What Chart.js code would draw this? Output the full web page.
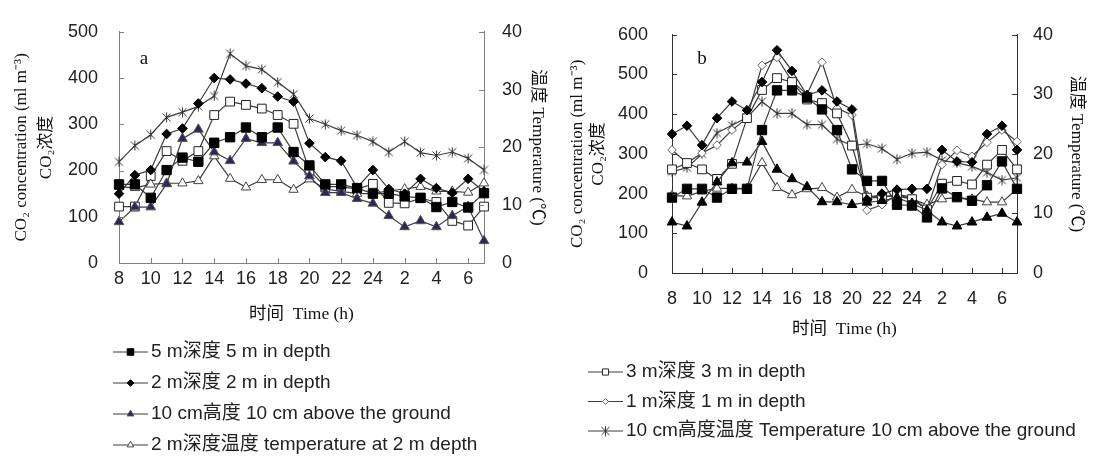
<!DOCTYPE html>
<html>
<head>
<meta charset="utf-8">
<script src="https://cdn.jsdelivr.net/npm/chart.js@4.4.1/dist/chart.umd.min.js"></script>
<style>
html, body { margin: 0; padding: 0; background: #fff; }
body { width: 1094px; height: 460px; position: relative; overflow: hidden; }
#chartA { position: absolute; left: 0; top: 0; }
#chartB { position: absolute; left: 550px; top: 0; }
</style>
</head>
<body>
<canvas id="chartA" width="550" height="460"></canvas>
<canvas id="chartB" width="544" height="460"></canvas>
<script>
// ===== DATA =====
const hours = ['8','9','10','11','12','13','14','15','16','17','18','19','20','21','22','23','24','1','2','3','4','5','6','7'];

// panel a, CO2 concentration (ml m-3)
const aDepth5  = [170,170,141,201,228,219,260,272,293,272,293,240,211,170,170,162,150,150,144,141,121,132,120,151];
const aDepth2  = [150,190,201,279,291,345,400,397,388,378,360,349,259,229,221,163,201,160,150,182,162,152,182,155];
const aAbove10 = [89,121,121,171,269,289,240,221,269,260,260,220,188,152,152,139,129,102,78,91,78,102,122,48];
const aDepth3  = [122,122,188,242,221,242,320,349,342,334,320,301,200,165,165,160,171,130,129,140,132,91,81,122];
// panel a, temperature (°C)
const aTemp2   = [13.2,13.0,13.6,13.8,13.8,14.2,18.5,14.6,13.1,14.4,14.4,12.7,14.5,12.8,12.4,12.0,12.0,12.5,12.8,13.2,12.4,12.4,12.2,13.8];
const aTemp10  = [17.5,20.3,22.2,25.2,26.1,27.1,28.9,36.2,34.1,33.5,31.3,29.2,25.0,24.0,22.9,22.1,21.0,19.2,21.0,19.1,18.6,19.2,18.1,16.1];

// panel b, CO2 concentration (ml m-3)
const bDepth5  = [190,212,212,190,212,212,360,460,460,442,412,360,261,232,232,172,170,140,213,191,182,221,281,212];
const bDepth2  = [350,371,322,390,432,410,481,561,509,448,460,432,412,185,200,210,212,212,310,281,279,350,371,310];
const bAbove10 = [128,118,178,229,277,279,331,261,237,217,179,179,172,178,182,190,175,158,128,118,128,140,150,128];
const bDepth3  = [261,277,261,237,275,390,461,491,481,437,428,402,321,190,190,198,186,160,225,232,223,273,310,261];
const bDepth1  = [310,277,302,322,360,390,523,543,483,450,531,415,398,158,172,198,191,160,273,309,294,329,360,331];
// panel b, temperature (°C)
const bTemp2   = [13.0,12.9,13.7,14.2,14.2,14.2,18.5,14.3,13.1,14.1,14.3,12.7,14.0,12.9,12.9,12.9,12.4,11.5,12.4,12.7,12.4,11.9,11.9,14.1];
const bTemp10  = [17.0,17.7,20.0,23.5,24.8,26.1,28.8,26.8,26.8,24.9,24.9,22.5,21.4,21.7,20.9,19.1,20.1,20.3,18.9,18.5,17.9,16.9,15.6,16.0];

const legendA = ['5 m深度 5 m in depth', '2 m深度 2 m in depth', '10 cm高度 10 cm above the ground', '2 m深度温度 temperature at 2 m depth'];
const legendB = ['3 m深度 3 m in depth', '1 m深度 1 m in depth', '10 cm高度温度 Temperature 10 cm above the ground'];

// ===== STYLES =====
const lineColor = '#3c3c3c';

// asterisk marker (x with a vertical bar)
const asterisk = document.createElement('canvas');
asterisk.width = 11; asterisk.height = 11;
const actx = asterisk.getContext('2d');
actx.strokeStyle = '#333';
actx.lineWidth = 1;
actx.beginPath();
actx.moveTo(1.5, 1.5); actx.lineTo(9.5, 9.5);
actx.moveTo(9.5, 1.5); actx.lineTo(1.5, 9.5);
actx.moveTo(5.5, 0.5); actx.lineTo(5.5, 10.5);
actx.stroke();

const mk = {
  depth5:   { pointStyle: 'rect', radius: 6.6, bg: '#000', border: '#000' },
  depth3:   { pointStyle: 'rect', radius: 6.2, bg: '#fff', border: '#222' },
  depth2:   { pointStyle: 'rectRot', radius: 4.8, bg: '#000', border: '#000' },
  depth1:   { pointStyle: 'rectRot', radius: 4.3, bg: '#fff', border: '#666' },
  above10a: { pointStyle: 'triangle', radius: 5.6, bg: '#30245e', border: '#555' },
  above10b: { pointStyle: 'triangle', radius: 5.6, bg: '#000', border: '#000' },
  temp2:    { pointStyle: 'triangle', radius: 5.4, bg: '#fff', border: '#444' },
  temp10:   { pointStyle: asterisk, radius: 5.5, bg: '#fff', border: '#333' }
};

function series(label, data, style, axis) {
  return {
    label, data, yAxisID: axis,
    borderColor: lineColor, borderWidth: 1.2, tension: 0, fill: false,
    pointStyle: style.pointStyle, pointRadius: style.radius, pointHoverRadius: style.radius,
    pointBackgroundColor: style.bg, pointBorderColor: style.border, pointBorderWidth: 1
  };
}

// ===== PLUGINS =====
// tick marks pointing into the plot, only where a label is shown
const innerTicks = {
  id: 'innerTicks',
  afterDraw(chart, args, opts) {
    const { ctx, chartArea: a } = chart;
    ctx.save();
    ctx.strokeStyle = opts.color;
    ctx.lineWidth = 1;
    ctx.beginPath();
    Object.values(chart.scales).forEach(scale => {
      scale.ticks.forEach((t, i) => {
        if (t.label === null || t.label === undefined || t.label === '') return;
        const p = Math.round(scale.getPixelForTick(i)) + 0.5;
        if (scale.axis === 'x') { ctx.moveTo(p, a.bottom); ctx.lineTo(p, a.bottom - 5); }
        else if (scale.position === 'left') { ctx.moveTo(a.left, p); ctx.lineTo(a.left + 5, p); }
        else { ctx.moveTo(a.right, p); ctx.lineTo(a.right - 5, p); }
      });
    });
    ctx.stroke();
    ctx.restore();
  }
};

// panel letter and the legend rows under the plot
const figureText = {
  id: 'figureText',
  afterDraw(chart, args, opts) {
    const ctx = chart.ctx, a = chart.chartArea;
    ctx.save();
    ctx.fillStyle = '#111';
    ctx.font = "19px 'Liberation Serif', serif";
    ctx.textAlign = 'center';
    ctx.textBaseline = 'middle';
    ctx.fillText(opts.panel, a.left + opts.panelDx, a.top + opts.panelDy);

    ctx.font = "19px 'Liberation Sans', 'Noto Sans CJK SC', sans-serif";
    ctx.textAlign = 'left';
    opts.items.forEach((idx, k) => {
      const ds = chart.data.datasets[idx];
      const y = opts.y + k * opts.dy;
      ctx.strokeStyle = lineColor;
      ctx.lineWidth = 1.2;
      ctx.beginPath();
      ctx.moveTo(opts.x, y); ctx.lineTo(opts.x + 35, y);
      ctx.stroke();
      ctx.fillStyle = ds.pointBackgroundColor;
      ctx.strokeStyle = ds.pointBorderColor;
      ctx.lineWidth = 1;
      Chart.helpers.drawPoint(ctx, { pointStyle: ds.pointStyle, radius: ds.pointRadius * 0.7, rotation: 0, borderWidth: 1 }, opts.x + 17.5, y);
      ctx.fillStyle = '#222';
      ctx.fillText(opts.labels[k], opts.x + 38, y);
    });
    ctx.restore();
  }
};

// ===== CHART BUILDER =====
const tickFont = { family: "'Liberation Sans', Arial, sans-serif", size: 18 };
const titleFont = { family: "'Liberation Serif', 'Noto Sans CJK SC', serif", size: 17 };

function buildChart(id, datasets, p) {
  return new Chart(document.getElementById(id), {
    type: 'line',
    data: { labels: hours, datasets },
    options: {
      responsive: false,
      animation: false,
      devicePixelRatio: 1,
      events: [],
      layout: { padding: { top: p.top, bottom: p.bottom, left: 0, right: 0 } },
      plugins: {
        legend: { display: false },
        tooltip: { enabled: false },
        innerTicks: { color: p.axisColor },
        figureText: p.text
      },
      scales: {
        x: {
          type: 'category', offset: false,
          grid: { display: false, drawTicks: false },
          border: { display: true, color: p.axisColor, width: 1 },
          ticks: {
            autoSkip: false, maxRotation: 0, padding: p.xPad, color: '#222', font: tickFont,
            callback(v, i) { return i % 2 === 0 ? this.getLabelForValue(v) : null; }
          },
          title: { display: true, text: '时间  Time (h)', color: '#111', font: { ...titleFont, size: 17.5 }, padding: { top: 0, bottom: p.xTitlePad } },
          afterFit(s) { s.height = p.xHeight; }
        },
        y: {
          position: 'left', min: 0, max: p.yMax,
          grid: { display: false, drawTicks: false },
          border: { display: true, color: p.axisColor, width: 1 },
          ticks: { stepSize: 100, padding: p.yPad, color: '#222', font: tickFont },
          title: { display: true, text: ['CO₂ concentration (ml m⁻³)', 'CO₂浓度'], color: '#111', font: { ...titleFont, lineHeight: p.yTitleLH }, padding: { top: p.yTitlePad, bottom: 0 } },
          afterFit(s) { s.width = p.yWidth; }
        },
        y2: {
          position: 'right', min: 0, max: 40,
          grid: { display: false, drawTicks: false },
          border: { display: true, color: p.axisColor, width: 1 },
          ticks: { stepSize: 10, padding: p.y2Pad, color: '#222', font: tickFont },
          title: { display: true, text: '温度 Temperature (℃)', color: '#111', font: { ...titleFont, lineHeight: 1.2 }, padding: { top: p.y2TitlePad, bottom: 0 } },
          afterFit(s) { s.width = p.y2Width; }
        }
      }
    },
    plugins: [innerTicks, figureText]
  });
}

// ===== PANEL a =====
buildChart('chartA', [
  series(legendA[0], aDepth5, mk.depth5, 'y'),
  series(legendA[1], aDepth2, mk.depth2, 'y'),
  series(legendA[2], aAbove10, mk.above10a, 'y'),
  series(legendA[3], aTemp2, mk.temp2, 'y2'),
  series('3 m', aDepth3, mk.depth3, 'y'),
  series('10 cm temperature', aTemp10, mk.temp10, 'y2')
], {
  top: 18, bottom: 132, xHeight: 65, yWidth: 119, y2Width: 66, yMax: 500,
  axisColor: '#808080', xPad: 5, yPad: 21, y2Pad: 18,
  yTitlePad: 9.5, yTitleLH: 25 / 17, y2TitlePad: 2, xTitlePad: 3,
  text: { panel: 'a', panelDx: 25, panelDy: 27, items: [0, 1, 2, 3], labels: legendA, x: 113, y: 352, dy: 31 }
});

// ===== PANEL b =====
buildChart('chartB', [
  series('5 m', bDepth5, mk.depth5, 'y'),
  series('2 m', bDepth2, mk.depth2, 'y'),
  series('10 cm', bAbove10, mk.above10b, 'y'),
  series(legendB[0], bDepth3, mk.depth3, 'y'),
  series(legendB[1], bDepth1, mk.depth1, 'y'),
  series('2 m temperature', bTemp2, mk.temp2, 'y2'),
  series(legendB[2], bTemp10, mk.temp10, 'y2')
], {
  top: 21, bottom: 119, xHeight: 68, yWidth: 122, y2Width: 77, yMax: 600,
  axisColor: '#333', xPad: 15, yPad: 24, y2Pad: 16,
  yTitlePad: 17.8, yTitleLH: 1.2, y2TitlePad: 7, xTitlePad: 1,
  text: { panel: 'b', panelDx: 30, panelDy: 24, items: [3, 4, 6], labels: legendB, x: 38, y: 372, dy: 29.5 }
});
</script>
</body>
</html>
